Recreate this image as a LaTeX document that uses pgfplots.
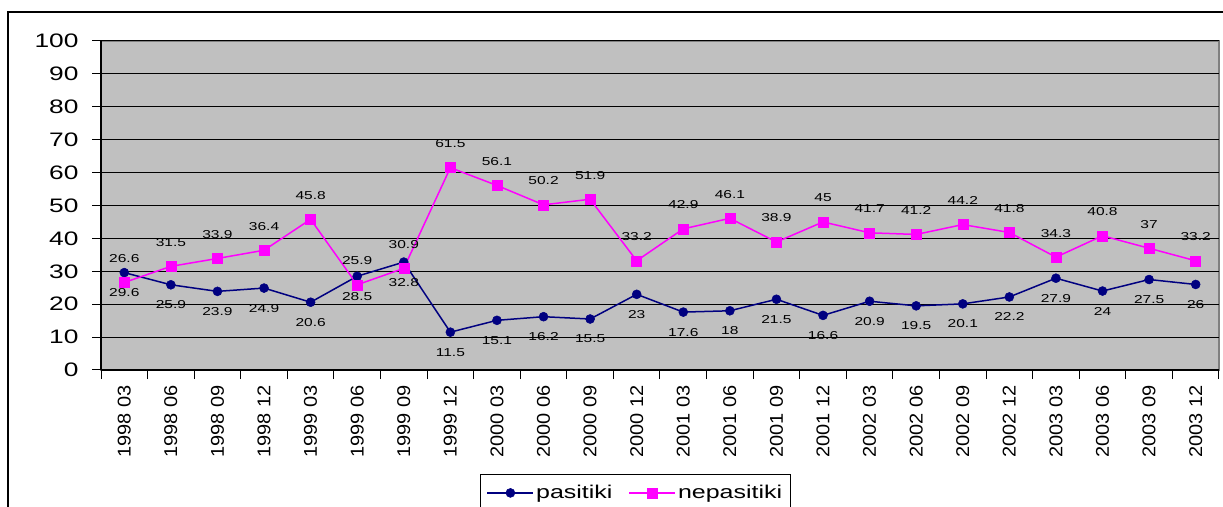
\documentclass[border=0pt]{standalone}
\usepackage{fontspec}
\setmainfont{Liberation Sans}
\newfontfamily\widefont[FakeStretch=1.35]{Liberation Sans}
\newfontfamily\tickfont[FakeStretch=1.08]{Liberation Sans}
\usepackage{pgfplots}
\pgfplotsset{compat=1.18}

\definecolor{plotgray}{RGB}{192,192,192}
\definecolor{framegray}{RGB}{128,128,128}
\definecolor{navyline}{RGB}{0,0,128}
\definecolor{magline}{RGB}{255,0,255}

\begin{document}
\begin{tikzpicture}
\useasboundingbox (0,0) rectangle (1223pt,506pt);
\clip (0,0) rectangle (1223pt,506pt);
% outer chart frame
\draw[line width=1.5pt] (8pt,-30pt) rectangle (1260pt,494pt);
\begin{axis}[
  at={(101pt,136pt)}, anchor=south west,
  scale only axis, width=1118pt, height=329pt,
  xmin=-0.5, xmax=23.5, ymin=0, ymax=100,
  axis lines*=left,
  axis line style={black, line width=1.2pt},
  axis background/.style={fill=plotgray, draw=framegray, line width=1.5pt},
  ytick={0,10,...,100},
  xtick={0,...,23},
  xticklabels={1998 03,1998 06,1998 09,1998 12,1999 03,1999 06,1999 09,1999 12,
    2000 03,2000 06,2000 09,2000 12,2001 03,2001 06,2001 09,2001 12,
    2002 03,2002 06,2002 09,2002 12,2003 03,2003 06,2003 09,2003 12},
  minor xtick={-0.5,0.5,...,23.5},
  major x tick style={draw=none},
  tick align=outside,
  major tick length=9pt, minor tick length=9pt,
  tick style={black, line width=1pt},
  ymajorgrids,
  major grid style={black, line width=1pt},
  /pgf/number format/assume math mode=true,
  yticklabel style={font=\widefont\fontsize{19.5}{22}\selectfont, xshift=-10pt},
  xticklabel style={font=\tickfont\fontsize{18.5}{20}\selectfont, rotate=90, anchor=east, xshift=-3pt},
  legend style={at={(0.478,-0.316)}, anchor=north, legend columns=2,
    draw=black, line width=1pt, inner xsep=6pt, inner ysep=9pt,
    font=\widefont\fontsize{18.5}{21}\selectfont,
    /tikz/every even column/.append style={column sep=14pt}},
  legend image code/.code={\draw[mark repeat=2, mark phase=2, #1]
    plot coordinates {(0pt,0pt) (23pt,0pt) (46pt,0pt)};},
]
\addplot[color=navyline, line width=1.5pt, mark=*, mark size=4.5pt,
  mark options={solid, fill=navyline, line width=0.5pt},
  nodes near coords,
  every node near coord/.append style={font=\widefont\fontsize{11.5}{13}\selectfont,
    text=black, anchor=center, yshift=-20pt}]
  coordinates {
  (0,29.6) (1,25.9) (2,23.9) (3,24.9) (4,20.6) (5,28.5) (6,32.8) (7,11.5)
  (8,15.1) (9,16.2) (10,15.5) (11,23) (12,17.6) (13,18) (14,21.5) (15,16.6)
  (16,20.9) (17,19.5) (18,20.1) (19,22.2) (20,27.9) (21,24) (22,27.5) (23,26)
  };
\addlegendentry{pasitiki}
\addplot[color=magline, line width=1.5pt, mark=square*, mark size=5pt,
  mark options={solid, fill=magline, line width=0.5pt},
  nodes near coords,
  every node near coord/.append style={font=\widefont\fontsize{11.5}{13}\selectfont,
    text=black, anchor=center, yshift=24pt}]
  coordinates {
  (0,26.6) (1,31.5) (2,33.9) (3,36.4) (4,45.8) (5,25.9) (6,30.9) (7,61.5)
  (8,56.1) (9,50.2) (10,51.9) (11,33.2) (12,42.9) (13,46.1) (14,38.9) (15,45)
  (16,41.7) (17,41.2) (18,44.2) (19,41.8) (20,34.3) (21,40.8) (22,37) (23,33.2)
  };
\addlegendentry{nepasitiki}
\end{axis}
\end{tikzpicture}
\end{document}
